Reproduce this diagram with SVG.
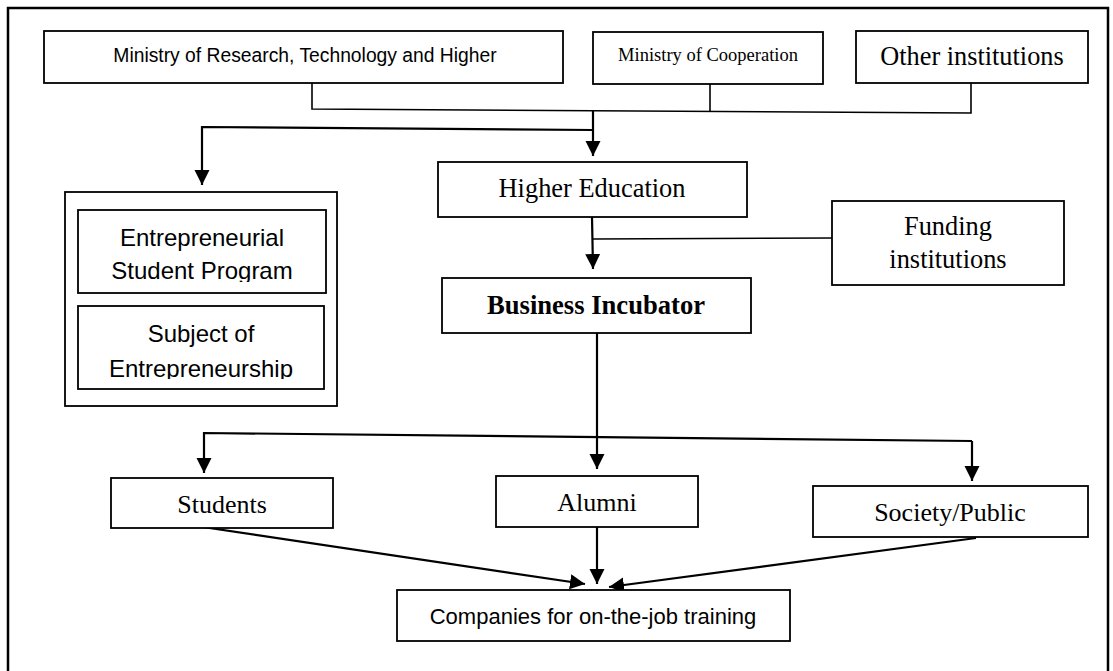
<svg xmlns="http://www.w3.org/2000/svg" width="1113" height="671" viewBox="0 0 1113 671">
<style>
.box{fill:#fff;stroke:#000;stroke-width:1.8}
.serif{font-family:"Liberation Serif","Times New Roman",serif;fill:#000}
.sans{font-family:"Liberation Sans",Arial,sans-serif;fill:#000}
.thin{fill:none;stroke:#000;stroke-width:1.6}
.arr{fill:none;stroke:#000;stroke-width:2.2;marker-end:url(#ah)}
</style>
<defs>
<marker id="ah" markerUnits="userSpaceOnUse" markerWidth="16" markerHeight="16" refX="15" refY="7.5" orient="auto">
<path d="M0,0 L15,7.5 L0,15 Z" fill="#000"/>
</marker>
<clipPath id="c1"><rect x="78" y="210" width="248" height="72"/></clipPath>
<clipPath id="c2"><rect x="78" y="306" width="246" height="73"/></clipPath>
</defs>
<rect x="8" y="8" width="1100" height="680" fill="#fff" stroke="#000" stroke-width="2.5"/>

<g id="connectors">
<polyline class="thin" points="312,83 312,109 971,113 971,83"/>
<line class="thin" x1="710" y1="84" x2="710" y2="111"/>
<path class="arr" d="M593,111 L593,156"/>
<path class="arr" d="M593,130 L202,127 L202,185"/>
<path class="arr" d="M592,217 L593,269"/>
<line class="thin" x1="832" y1="238" x2="593" y2="239"/>
<path class="arr" d="M597,333 L597,469"/>
<path class="arr" d="M972,441 L204,433 L204,473"/>
<path class="arr" d="M972,441 L972,481"/>
<path class="arr" d="M196,526 L585,584"/>
<path class="arr" d="M597,527 L597,584"/>
<path class="arr" d="M976,538 L609,587"/>
</g>

<g id="ministry-research">
<rect class="box" x="44" y="31" width="519" height="52"/>
<text class="sans" x="305" y="62" font-size="19.3" text-anchor="middle">Ministry of Research, Technology and Higher</text>
</g>
<g id="ministry-cooperation">
<rect class="box" x="593" y="32" width="230" height="52"/>
<text class="serif" x="708" y="61" font-size="18.5" text-anchor="middle">Ministry of Cooperation</text>
</g>
<g id="other-institutions">
<rect class="box" x="856" y="31" width="232" height="52"/>
<text class="serif" x="972" y="65" font-size="26.3" text-anchor="middle">Other institutions</text>
</g>

<g id="entrepreneurship-group">
<rect class="box" x="65" y="192" width="272" height="214"/>
<g id="entrepreneurial-program">
<rect class="box" x="78" y="210" width="248" height="83"/>
<text class="sans" font-size="24" text-anchor="middle" clip-path="url(#c1)"><tspan x="202" y="246">Entrepreneurial</tspan><tspan x="202" y="279">Student Program</tspan></text>
</g>
<g id="subject-entrepreneurship">
<rect class="box" x="78" y="306" width="246" height="83"/>
<text class="sans" font-size="24" text-anchor="middle" clip-path="url(#c2)"><tspan x="201" y="342">Subject of</tspan><tspan x="201" y="377">Entrepreneurship</tspan></text>
</g>
</g>

<g id="higher-education">
<rect class="box" x="438" y="162" width="309" height="55"/>
<text class="serif" x="592" y="197" font-size="26.4" text-anchor="middle">Higher Education</text>
</g>
<g id="funding-institutions">
<rect class="box" x="832" y="201" width="232" height="84"/>
<text class="serif" font-size="26.4" text-anchor="middle"><tspan x="948" y="235">Funding</tspan><tspan x="948" y="268">institutions</tspan></text>
</g>
<g id="business-incubator">
<rect class="box" x="442" y="278" width="309" height="55"/>
<text class="serif" x="596" y="314" font-size="26.6" font-weight="bold" text-anchor="middle">Business Incubator</text>
</g>

<g id="students">
<rect class="box" x="111" y="478" width="222" height="50"/>
<text class="serif" x="222" y="513" font-size="26" text-anchor="middle">Students</text>
</g>
<g id="alumni">
<rect class="box" x="496" y="476" width="202" height="51"/>
<text class="serif" x="597" y="511" font-size="26" text-anchor="middle">Alumni</text>
</g>
<g id="society-public">
<rect class="box" x="813" y="486" width="275" height="51"/>
<text class="serif" x="950" y="521" font-size="26" text-anchor="middle">Society/Public</text>
</g>
<g id="companies">
<rect class="box" x="397" y="590" width="393" height="51"/>
<text class="sans" x="593" y="624" font-size="22" text-anchor="middle">Companies for on-the-job training</text>
</g>
</svg>
